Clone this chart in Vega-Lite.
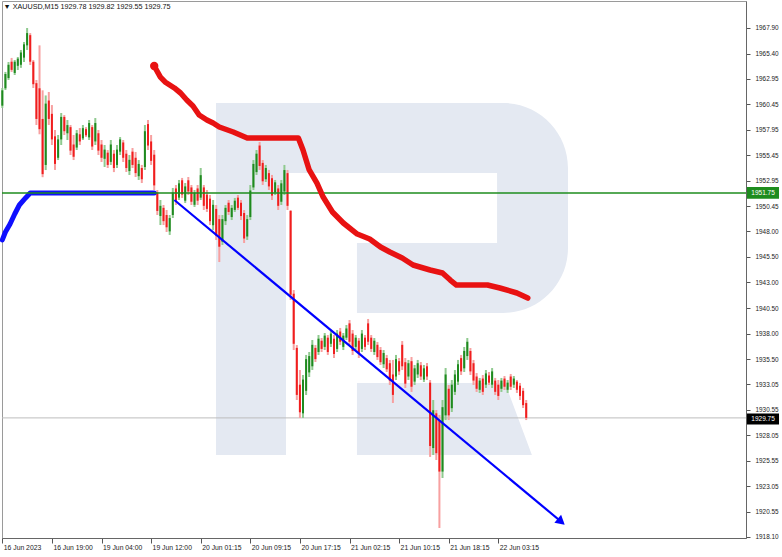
{
  "$schema": "https://vega.github.io/schema/vega-lite/v6.json",
  "width": 744,
  "height": 537,
  "autosize": {"type": "none"},
  "padding": {"left": 2, "top": 1, "right": 36, "bottom": 19},
  "background": "white",
  "data": {"values": [{"k": 1}]},
  "config": {
    "view": {"stroke": "#9a9a9a", "strokeWidth": 1},
    "axis": {"grid": false, "title": null, "labelOverlap": false, "labelFlush": false, "labelBound": false},
    "font": "Liberation Sans"
  },
  "datasets": {
    "bars": [
{"i":0,"o":1960.3,"h":1962.03,"l":1960.07,"c":1961.8},
{"i":2,"o":1962.0,"h":1963.6,"l":1961.83,"c":1963.4},
{"i":4,"o":1963.0,"h":1964.57,"l":1962.81,"c":1964.3},
{"i":6,"o":1964.6,"h":1964.97,"l":1963.6,"c":1963.8},
{"i":8,"o":1963.5,"h":1964.77,"l":1963.3,"c":1964.6},
{"i":10,"o":1964.2,"h":1965.06,"l":1963.79,"c":1964.9},
{"i":12,"o":1964.3,"h":1965.75,"l":1964.0,"c":1965.5},
{"i":14,"o":1965.0,"h":1966.53,"l":1964.57,"c":1966.3},
{"i":16,"o":1966.2,"h":1967.9,"l":1965.75,"c":1967.4},
{"i":18,"o":1967.2,"h":1967.4,"l":1964.28,"c":1964.6},
{"i":20,"o":1964.6,"h":1964.77,"l":1962.03,"c":1962.4},
{"i":22,"o":1962.5,"h":1962.81,"l":1958.41,"c":1959.0},
{"i":24,"o":1962.0,"h":1966.2,"l":1957.5,"c":1958.0},
{"i":26,"o":1959.0,"h":1961.8,"l":1953.3,"c":1953.6},
{"i":28,"o":1954.5,"h":1961.3,"l":1954.0,"c":1960.5},
{"i":30,"o":1960.8,"h":1961.64,"l":1958.41,"c":1959.0},
{"i":32,"o":1959.5,"h":1960.36,"l":1956.45,"c":1957.0},
{"i":34,"o":1957.3,"h":1957.92,"l":1954.01,"c":1954.6},
{"i":36,"o":1955.2,"h":1957.43,"l":1954.98,"c":1957.0},
{"i":38,"o":1957.0,"h":1959.58,"l":1956.45,"c":1959.2},
{"i":40,"o":1959.2,"h":1959.38,"l":1957.43,"c":1957.8},
{"i":42,"o":1957.6,"h":1958.9,"l":1956.94,"c":1958.4},
{"i":44,"o":1958.2,"h":1958.41,"l":1955.47,"c":1955.9},
{"i":46,"o":1956.5,"h":1957.43,"l":1954.98,"c":1955.3},
{"i":48,"o":1956.2,"h":1957.92,"l":1955.96,"c":1957.6},
{"i":50,"o":1957.5,"h":1958.11,"l":1956.45,"c":1956.8},
{"i":52,"o":1957.1,"h":1958.41,"l":1956.94,"c":1958.1},
{"i":54,"o":1958.0,"h":1958.2,"l":1957.23,"c":1957.4},
{"i":56,"o":1957.2,"h":1958.9,"l":1956.94,"c":1958.6},
{"i":58,"o":1958.2,"h":1958.41,"l":1955.96,"c":1956.3},
{"i":60,"o":1956.8,"h":1959.09,"l":1956.45,"c":1958.6},
{"i":62,"o":1957.6,"h":1957.92,"l":1955.47,"c":1955.9},
{"i":64,"o":1956.5,"h":1956.94,"l":1954.79,"c":1955.2},
{"i":66,"o":1955.1,"h":1956.45,"l":1954.3,"c":1956.0},
{"i":68,"o":1955.7,"h":1955.96,"l":1954.2,"c":1954.5},
{"i":70,"o":1954.8,"h":1956.94,"l":1954.5,"c":1956.5},
{"i":72,"o":1955.6,"h":1955.96,"l":1953.8,"c":1954.2},
{"i":74,"o":1954.5,"h":1956.45,"l":1954.2,"c":1956.0},
{"i":76,"o":1955.8,"h":1957.23,"l":1955.47,"c":1957.0},
{"i":78,"o":1956.7,"h":1956.94,"l":1954.79,"c":1955.2},
{"i":80,"o":1955.6,"h":1955.96,"l":1953.81,"c":1954.2},
{"i":82,"o":1953.9,"h":1955.47,"l":1953.52,"c":1955.0},
{"i":84,"o":1955.8,"h":1956.16,"l":1954.2,"c":1954.5},
{"i":86,"o":1955.2,"h":1955.77,"l":1953.32,"c":1953.7},
{"i":88,"o":1953.4,"h":1954.98,"l":1953.03,"c":1954.6},
{"i":90,"o":1954.2,"h":1954.5,"l":1952.73,"c":1953.1},
{"i":92,"o":1954.3,"h":1958.41,"l":1954.01,"c":1957.8},
{"i":94,"o":1958.5,"h":1958.9,"l":1955.96,"c":1956.4},
{"i":96,"o":1956.8,"h":1957.43,"l":1954.5,"c":1954.9},
{"i":98,"o":1955.5,"h":1955.96,"l":1952.05,"c":1952.5},
{"i":100,"o":1951.8,"h":1952.05,"l":1949.6,"c":1950.0},
{"i":102,"o":1949.5,"h":1951.07,"l":1948.62,"c":1950.5},
{"i":104,"o":1950.3,"h":1950.58,"l":1948.62,"c":1949.0},
{"i":106,"o":1949.6,"h":1950.09,"l":1947.94,"c":1948.4},
{"i":108,"o":1948.0,"h":1949.6,"l":1947.65,"c":1949.3},
{"i":110,"o":1949.6,"h":1952.25,"l":1949.31,"c":1951.8},
{"i":112,"o":1952.2,"h":1952.54,"l":1950.58,"c":1951.0},
{"i":114,"o":1951.3,"h":1953.03,"l":1951.07,"c":1952.7},
{"i":116,"o":1953.0,"h":1953.23,"l":1951.27,"c":1951.6},
{"i":118,"o":1951.0,"h":1952.73,"l":1950.78,"c":1952.4},
{"i":120,"o":1953.0,"h":1953.32,"l":1951.56,"c":1951.9},
{"i":122,"o":1952.3,"h":1952.54,"l":1950.58,"c":1950.9},
{"i":124,"o":1950.6,"h":1952.05,"l":1950.39,"c":1951.8},
{"i":126,"o":1952.2,"h":1952.54,"l":1950.58,"c":1951.0},
{"i":128,"o":1951.3,"h":1954.2,"l":1951.07,"c":1953.5},
{"i":130,"o":1952.3,"h":1952.54,"l":1950.09,"c":1950.5},
{"i":132,"o":1951.6,"h":1952.05,"l":1949.9,"c":1950.2},
{"i":134,"o":1951.2,"h":1951.56,"l":1948.62,"c":1949.0},
{"i":136,"o":1948.6,"h":1951.07,"l":1948.13,"c":1950.6},
{"i":138,"o":1950.2,"h":1950.58,"l":1947.16,"c":1947.6},
{"i":140,"o":1949.2,"h":1949.6,"l":1945.0,"c":1946.5},
{"i":142,"o":1947.0,"h":1949.6,"l":1946.67,"c":1949.2},
{"i":144,"o":1949.0,"h":1950.58,"l":1948.62,"c":1950.3},
{"i":146,"o":1950.8,"h":1951.07,"l":1949.6,"c":1949.9},
{"i":148,"o":1949.4,"h":1950.58,"l":1949.11,"c":1950.3},
{"i":150,"o":1950.1,"h":1951.27,"l":1949.9,"c":1951.0},
{"i":152,"o":1951.3,"h":1951.56,"l":1950.09,"c":1950.3},
{"i":154,"o":1950.8,"h":1951.07,"l":1949.11,"c":1949.5},
{"i":156,"o":1949.8,"h":1950.09,"l":1946.86,"c":1947.3},
{"i":158,"o":1947.5,"h":1949.6,"l":1947.16,"c":1949.2},
{"i":160,"o":1949.4,"h":1952.54,"l":1949.11,"c":1952.0},
{"i":162,"o":1952.3,"h":1954.98,"l":1952.05,"c":1954.6},
{"i":164,"o":1953.8,"h":1955.96,"l":1953.52,"c":1955.6},
{"i":166,"o":1956.4,"h":1956.75,"l":1954.01,"c":1954.4},
{"i":168,"o":1954.7,"h":1954.98,"l":1952.54,"c":1952.9},
{"i":170,"o":1953.1,"h":1954.5,"l":1952.83,"c":1954.2},
{"i":172,"o":1953.7,"h":1954.01,"l":1952.05,"c":1952.4},
{"i":174,"o":1953.2,"h":1953.52,"l":1951.07,"c":1951.5},
{"i":176,"o":1951.8,"h":1953.03,"l":1951.56,"c":1952.8},
{"i":178,"o":1952.2,"h":1952.54,"l":1950.09,"c":1950.5},
{"i":180,"o":1950.9,"h":1953.03,"l":1950.58,"c":1952.7},
{"i":182,"o":1951.9,"h":1954.5,"l":1951.56,"c":1954.0},
{"i":184,"o":1953.7,"h":1954.01,"l":1950.09,"c":1950.5},
{"i":186,"o":1950.0,"h":1950.09,"l":1941.29,"c":1941.8},
{"i":188,"o":1941.9,"h":1942.26,"l":1936.39,"c":1937.0},
{"i":190,"o":1936.6,"h":1936.88,"l":1931.5,"c":1932.0},
{"i":192,"o":1933.0,"h":1934.44,"l":1929.74,"c":1930.3},
{"i":194,"o":1930.2,"h":1933.95,"l":1929.74,"c":1933.5},
{"i":196,"o":1932.4,"h":1935.91,"l":1931.99,"c":1935.5},
{"i":198,"o":1934.2,"h":1936.2,"l":1933.75,"c":1935.8},
{"i":200,"o":1934.8,"h":1937.37,"l":1934.44,"c":1936.9},
{"i":202,"o":1936.6,"h":1936.88,"l":1935.22,"c":1935.5},
{"i":204,"o":1936.2,"h":1937.86,"l":1935.91,"c":1937.5},
{"i":206,"o":1937.3,"h":1937.57,"l":1936.2,"c":1936.5},
{"i":208,"o":1936.7,"h":1938.06,"l":1936.39,"c":1937.8},
{"i":210,"o":1937.6,"h":1937.86,"l":1935.91,"c":1936.2},
{"i":212,"o":1937.0,"h":1938.35,"l":1936.69,"c":1938.0},
{"i":214,"o":1937.5,"h":1937.86,"l":1935.61,"c":1936.0},
{"i":216,"o":1936.5,"h":1938.35,"l":1936.2,"c":1938.0},
{"i":218,"o":1938.2,"h":1938.55,"l":1936.88,"c":1937.2},
{"i":220,"o":1936.7,"h":1938.06,"l":1936.39,"c":1937.8},
{"i":222,"o":1937.6,"h":1938.84,"l":1937.37,"c":1938.5},
{"i":224,"o":1939.0,"h":1939.33,"l":1936.88,"c":1937.2},
{"i":226,"o":1938.0,"h":1938.35,"l":1935.91,"c":1936.3},
{"i":228,"o":1936.7,"h":1937.86,"l":1936.39,"c":1937.6},
{"i":230,"o":1937.3,"h":1937.57,"l":1935.61,"c":1936.0},
{"i":232,"o":1936.5,"h":1938.35,"l":1936.2,"c":1938.0},
{"i":234,"o":1937.6,"h":1937.86,"l":1936.39,"c":1936.7},
{"i":236,"o":1939.0,"h":1939.43,"l":1936.88,"c":1937.2},
{"i":238,"o":1937.6,"h":1937.86,"l":1936.2,"c":1936.5},
{"i":240,"o":1936.2,"h":1937.57,"l":1935.91,"c":1937.3},
{"i":242,"o":1936.9,"h":1937.18,"l":1935.42,"c":1935.7},
{"i":244,"o":1936.4,"h":1936.69,"l":1934.93,"c":1935.2},
{"i":246,"o":1935.0,"h":1936.39,"l":1934.63,"c":1936.1},
{"i":248,"o":1935.6,"h":1935.91,"l":1934.24,"c":1934.5},
{"i":250,"o":1935.1,"h":1935.42,"l":1932.97,"c":1933.4},
{"i":252,"o":1934.0,"h":1935.42,"l":1931.21,"c":1932.0},
{"i":254,"o":1933.8,"h":1935.91,"l":1933.46,"c":1935.5},
{"i":256,"o":1935.3,"h":1935.61,"l":1933.95,"c":1934.3},
{"i":258,"o":1936.9,"h":1937.27,"l":1934.44,"c":1934.8},
{"i":260,"o":1935.2,"h":1935.61,"l":1932.68,"c":1933.1},
{"i":262,"o":1933.8,"h":1935.42,"l":1933.46,"c":1935.1},
{"i":264,"o":1935.3,"h":1935.71,"l":1932.29,"c":1932.8},
{"i":266,"o":1933.3,"h":1934.93,"l":1932.97,"c":1934.6},
{"i":268,"o":1934.0,"h":1935.42,"l":1933.66,"c":1935.1},
{"i":270,"o":1934.9,"h":1935.22,"l":1933.46,"c":1933.8},
{"i":272,"o":1933.5,"h":1934.93,"l":1933.26,"c":1934.6},
{"i":274,"o":1934.8,"h":1935.12,"l":1933.46,"c":1933.8},
{"i":276,"o":1933.2,"h":1933.46,"l":1925.93,"c":1927.0},
{"i":278,"o":1926.8,"h":1931.5,"l":1926.12,"c":1930.5},
{"i":280,"o":1930.2,"h":1930.52,"l":1925.63,"c":1926.3},
{"i":282,"o":1929.5,"h":1930.03,"l":1918.98,"c":1924.5},
{"i":284,"o":1924.5,"h":1931.5,"l":1923.87,"c":1930.8},
{"i":286,"o":1930.0,"h":1934.63,"l":1929.54,"c":1934.0},
{"i":288,"o":1932.6,"h":1932.97,"l":1929.54,"c":1930.0},
{"i":290,"o":1930.7,"h":1933.46,"l":1930.33,"c":1933.0},
{"i":292,"o":1932.3,"h":1934.44,"l":1931.99,"c":1934.0},
{"i":294,"o":1933.3,"h":1935.42,"l":1932.97,"c":1935.0},
{"i":296,"o":1935.6,"h":1935.91,"l":1933.95,"c":1934.3},
{"i":298,"o":1934.6,"h":1936.69,"l":1934.24,"c":1936.3},
{"i":300,"o":1935.8,"h":1937.57,"l":1935.42,"c":1937.2},
{"i":302,"o":1936.3,"h":1936.59,"l":1933.95,"c":1934.3},
{"i":304,"o":1935.1,"h":1935.42,"l":1932.97,"c":1933.4},
{"i":306,"o":1933.8,"h":1934.14,"l":1932.29,"c":1932.6},
{"i":308,"o":1932.5,"h":1933.66,"l":1932.19,"c":1933.4},
{"i":310,"o":1933.6,"h":1933.95,"l":1931.99,"c":1932.3},
{"i":312,"o":1933.0,"h":1934.44,"l":1932.68,"c":1934.1},
{"i":314,"o":1933.9,"h":1934.24,"l":1932.97,"c":1933.2},
{"i":316,"o":1933.0,"h":1934.63,"l":1932.68,"c":1934.3},
{"i":318,"o":1933.4,"h":1933.66,"l":1931.99,"c":1932.3},
{"i":320,"o":1933.0,"h":1933.46,"l":1931.5,"c":1931.9},
{"i":322,"o":1932.6,"h":1933.66,"l":1932.29,"c":1933.4},
{"i":324,"o":1933.6,"h":1933.85,"l":1932.48,"c":1932.8},
{"i":326,"o":1932.5,"h":1933.46,"l":1932.19,"c":1933.2},
{"i":328,"o":1933.8,"h":1934.05,"l":1932.48,"c":1932.8},
{"i":330,"o":1933.0,"h":1933.85,"l":1932.68,"c":1933.6},
{"i":332,"o":1933.3,"h":1933.46,"l":1932.19,"c":1932.5},
{"i":334,"o":1932.9,"h":1933.17,"l":1931.5,"c":1931.9},
{"i":336,"o":1932.4,"h":1932.68,"l":1930.72,"c":1931.0},
{"i":338,"o":1931.2,"h":1931.5,"l":1929.54,"c":1929.75}
    ],
    "red": [
{"i":98,"p":1964.18},{"i":102,"p":1963.1},{"i":105,"p":1962.62},{"i":108,"p":1962.32},{"i":111,"p":1962.03},{"i":115,"p":1961.54},{"i":119,"p":1960.85},{"i":123,"p":1960.27},{"i":127,"p":1959.39},{"i":132,"p":1958.9},{"i":136,"p":1958.6},{"i":140,"p":1958.21},{"i":149,"p":1957.72},{"i":158,"p":1957.14},{"i":191,"p":1957.14},{"i":194,"p":1955.96},{"i":198,"p":1954.01},{"i":203,"p":1952.73},{"i":207,"p":1951.36},{"i":213,"p":1949.9},{"i":220,"p":1948.82},{"i":229,"p":1947.74},{"i":237,"p":1947.26},{"i":244,"p":1946.47},{"i":250,"p":1945.98},{"i":258,"p":1945.4},{"i":265,"p":1944.71},{"i":276,"p":1944.22},{"i":284,"p":1943.93},{"i":289,"p":1943.24},{"i":293,"p":1942.75},{"i":313,"p":1942.75},{"i":321,"p":1942.46},{"i":332,"p":1941.97},{"i":339,"p":1941.48}
    ],
    "blue": [
{"i":0,"p":1947.16},{"i":2,"p":1947.94},{"i":5,"p":1948.72},{"i":8,"p":1949.7},{"i":11,"p":1950.58},{"i":15,"p":1951.27},{"i":18,"p":1951.75},{"i":98,"p":1951.75}
    ],
    "trend": [
{"i":111,"p":1951.07},{"i":360.6,"p":1919.59}
    ]
  },
  "layer": [
    {
      "mark": {"type": "point", "filled": true, "opacity": 1, "strokeWidth": 0, "color": "#e4e9f2", "size": 123904,
        "shape": "M -1 -1 L 0.631 -1 C 0.835 -1 1 -0.835 1 -0.631 L 1 -0.176 C 1 0.028 0.835 0.193 0.631 0.193 L -0.199 0.193 L -0.199 -0.205 L 0.597 -0.205 L 0.597 -0.602 L -0.602 -0.602 L -0.602 1 L -1 1 Z M -0.199 0.591 L 0.642 0.591 L 0.795 1 L -0.199 1 Z"},
      "encoding": {
        "x": {"datum": 251.4, "type": "quantitative", "scale": {"domain": [-0.2, 479.8], "nice": false, "zero": false},
          "axis": {"title": null, "values": [0, 32, 64, 96, 128, 160, 192, 224, 256, 288, 320], "tickCount": 40,
            "labelExpr": "['16 Jun 2023','16 Jun 19:00','19 Jun 04:00','19 Jun 12:00','20 Jun 01:15','20 Jun 09:15','20 Jun 17:15','21 Jun 02:15','21 Jun 10:15','21 Jun 18:15','22 Jun 03:15'][round(datum.value/32)]",
            "labelAlign": "left", "labelOffset": 1, "labelFontSize": 6.8, "labelColor": "#222", "labelFont": "Liberation Sans",
            "tickSize": 5, "tickColor": "#555", "labelPadding": 1, "domainColor": "#666", "labelFlush": false, "labelOverlap": false}},
        "y": {"datum": 1943.34, "type": "quantitative", "scale": {"domain": [1918.0, 1970.54], "nice": false, "zero": false},
          "axis": {"title": null, "orient": "right", "tickCount": 40,
            "values": [1967.90, 1965.40, 1962.95, 1960.45, 1957.95, 1955.45, 1952.95, 1950.45, 1948.00, 1945.50, 1943.00, 1940.50, 1938.00, 1935.50, 1933.05, 1930.55, 1928.05, 1925.55, 1923.05, 1920.55, 1918.10],
            "format": ".2f", "labelFontSize": 6.4, "labelColor": "#222", "labelFont": "Liberation Sans",
            "tickSize": 4, "tickColor": "#555", "labelPadding": 5, "domainColor": "#666", "labelOverlap": false, "labelFlush": false, "labelBound": false}}
      }
    },
    {
      "mark": {"type": "rule", "color": "#bdbdbd", "strokeWidth": 1},
      "encoding": {
        "y": {"datum": 1929.75, "type": "quantitative", "scale": {"domain": [1918.0, 1970.54], "nice": false, "zero": false}}
      }
    },
    {
      "data": {"name": "bars"},
      "mark": {"type": "rule", "strokeWidth": 2},
      "encoding": {
        "x": {"field": "i", "type": "quantitative", "scale": {"domain": [-0.2, 479.8], "nice": false, "zero": false}},
        "y": {"field": "l", "type": "quantitative", "scale": {"domain": [1918.0, 1970.54], "nice": false, "zero": false}},
        "y2": {"field": "h"},
        "color": {"condition": {"test": "datum.c >= datum.o", "value": "#8fca8f"}, "value": "#f7a0a0"}
      }
    },
    {
      "data": {"name": "bars"},
      "mark": {"type": "rule", "strokeWidth": 2},
      "encoding": {
        "x": {"field": "i", "type": "quantitative", "scale": {"domain": [-0.2, 479.8], "nice": false, "zero": false}},
        "y": {"field": "o", "type": "quantitative", "scale": {"domain": [1918.0, 1970.54], "nice": false, "zero": false}},
        "y2": {"field": "c"},
        "color": {"condition": {"test": "datum.c >= datum.o", "value": "#1f8a1f"}, "value": "#f01e1e"}
      }
    },
    {
      "data": {"name": "blue"},
      "mark": {"type": "line", "color": "#0f0fff", "strokeWidth": 5, "strokeCap": "round", "strokeJoin": "round"},
      "encoding": {
        "x": {"field": "i", "type": "quantitative", "scale": {"domain": [-0.2, 479.8], "nice": false, "zero": false}},
        "y": {"field": "p", "type": "quantitative", "scale": {"domain": [1918.0, 1970.54], "nice": false, "zero": false}}
      }
    },
    {
      "mark": {"type": "rule", "color": "#1e8c1e", "strokeWidth": 1.6},
      "encoding": {
        "y": {"datum": 1951.75, "type": "quantitative", "scale": {"domain": [1918.0, 1970.54], "nice": false, "zero": false}}
      }
    },
    {
      "data": {"name": "red"},
      "mark": {"type": "line", "color": "#e81212", "strokeWidth": 5.5, "strokeCap": "round", "strokeJoin": "round"},
      "encoding": {
        "x": {"field": "i", "type": "quantitative", "scale": {"domain": [-0.2, 479.8], "nice": false, "zero": false}},
        "y": {"field": "p", "type": "quantitative", "scale": {"domain": [1918.0, 1970.54], "nice": false, "zero": false}}
      }
    },
    {
      "mark": {"type": "point", "filled": true, "opacity": 1, "color": "#e81212", "size": 70, "shape": "circle"},
      "encoding": {
        "x": {"datum": 98, "type": "quantitative", "scale": {"domain": [-0.2, 479.8], "nice": false, "zero": false}},
        "y": {"datum": 1964.18, "type": "quantitative", "scale": {"domain": [1918.0, 1970.54], "nice": false, "zero": false}}
      }
    },
    {
      "data": {"name": "trend"},
      "mark": {"type": "line", "color": "#0000ff", "strokeWidth": 2.2},
      "encoding": {
        "x": {"field": "i", "type": "quantitative", "scale": {"domain": [-0.2, 479.8], "nice": false, "zero": false}},
        "y": {"field": "p", "type": "quantitative", "scale": {"domain": [1918.0, 1970.54], "nice": false, "zero": false}}
      }
    },
    {
      "mark": {"type": "point", "filled": true, "opacity": 1, "color": "#0000ff", "size": 110, "shape": "triangle-right", "angle": 39.8, "strokeWidth": 0},
      "encoding": {
        "x": {"datum": 360.6, "type": "quantitative", "scale": {"domain": [-0.2, 479.8], "nice": false, "zero": false}},
        "y": {"datum": 1919.59, "type": "quantitative", "scale": {"domain": [1918.0, 1970.54], "nice": false, "zero": false}}
      }
    },
    {
      "mark": {"type": "rect", "color": "#1e8c1e"},
      "encoding": {
        "x": {"datum": 480.4, "type": "quantitative", "scale": {"domain": [-0.2, 479.8], "nice": false, "zero": false}},
        "x2": {"datum": 501.1},
        "y": {"datum": 1952.33, "type": "quantitative", "scale": {"domain": [1918.0, 1970.54], "nice": false, "zero": false}},
        "y2": {"datum": 1951.2}
      }
    },
    {
      "mark": {"type": "rect", "color": "#000000"},
      "encoding": {
        "x": {"datum": 480.4, "type": "quantitative", "scale": {"domain": [-0.2, 479.8], "nice": false, "zero": false}},
        "x2": {"datum": 501.1},
        "y": {"datum": 1930.18, "type": "quantitative", "scale": {"domain": [1918.0, 1970.54], "nice": false, "zero": false}},
        "y2": {"datum": 1929.1}
      }
    },
    {
      "mark": {"type": "text", "color": "white", "fontSize": 6.5, "align": "center", "baseline": "middle", "font": "Liberation Sans", "text": "1951.75"},
      "encoding": {
        "x": {"datum": 490.8, "type": "quantitative", "scale": {"domain": [-0.2, 479.8], "nice": false, "zero": false}},
        "y": {"datum": 1951.77, "type": "quantitative", "scale": {"domain": [1918.0, 1970.54], "nice": false, "zero": false}}
      }
    },
    {
      "mark": {"type": "text", "color": "white", "fontSize": 6.5, "align": "center", "baseline": "middle", "font": "Liberation Sans", "text": "1929.75"},
      "encoding": {
        "x": {"datum": 490.8, "type": "quantitative", "scale": {"domain": [-0.2, 479.8], "nice": false, "zero": false}},
        "y": {"datum": 1929.64, "type": "quantitative", "scale": {"domain": [1918.0, 1970.54], "nice": false, "zero": false}}
      }
    },
    {
      "mark": {"type": "text", "color": "#111", "fontSize": 7.2, "align": "left", "baseline": "middle", "font": "Liberation Sans", "text": "▼  XAUUSD,M15  1929.78 1929.82 1929.55 1929.75"},
      "encoding": {
        "x": {"datum": 0.8, "type": "quantitative", "scale": {"domain": [-0.2, 479.8], "nice": false, "zero": false}},
        "y": {"datum": 1969.95, "type": "quantitative", "scale": {"domain": [1918.0, 1970.54], "nice": false, "zero": false}}
      }
    }
  ]
}
